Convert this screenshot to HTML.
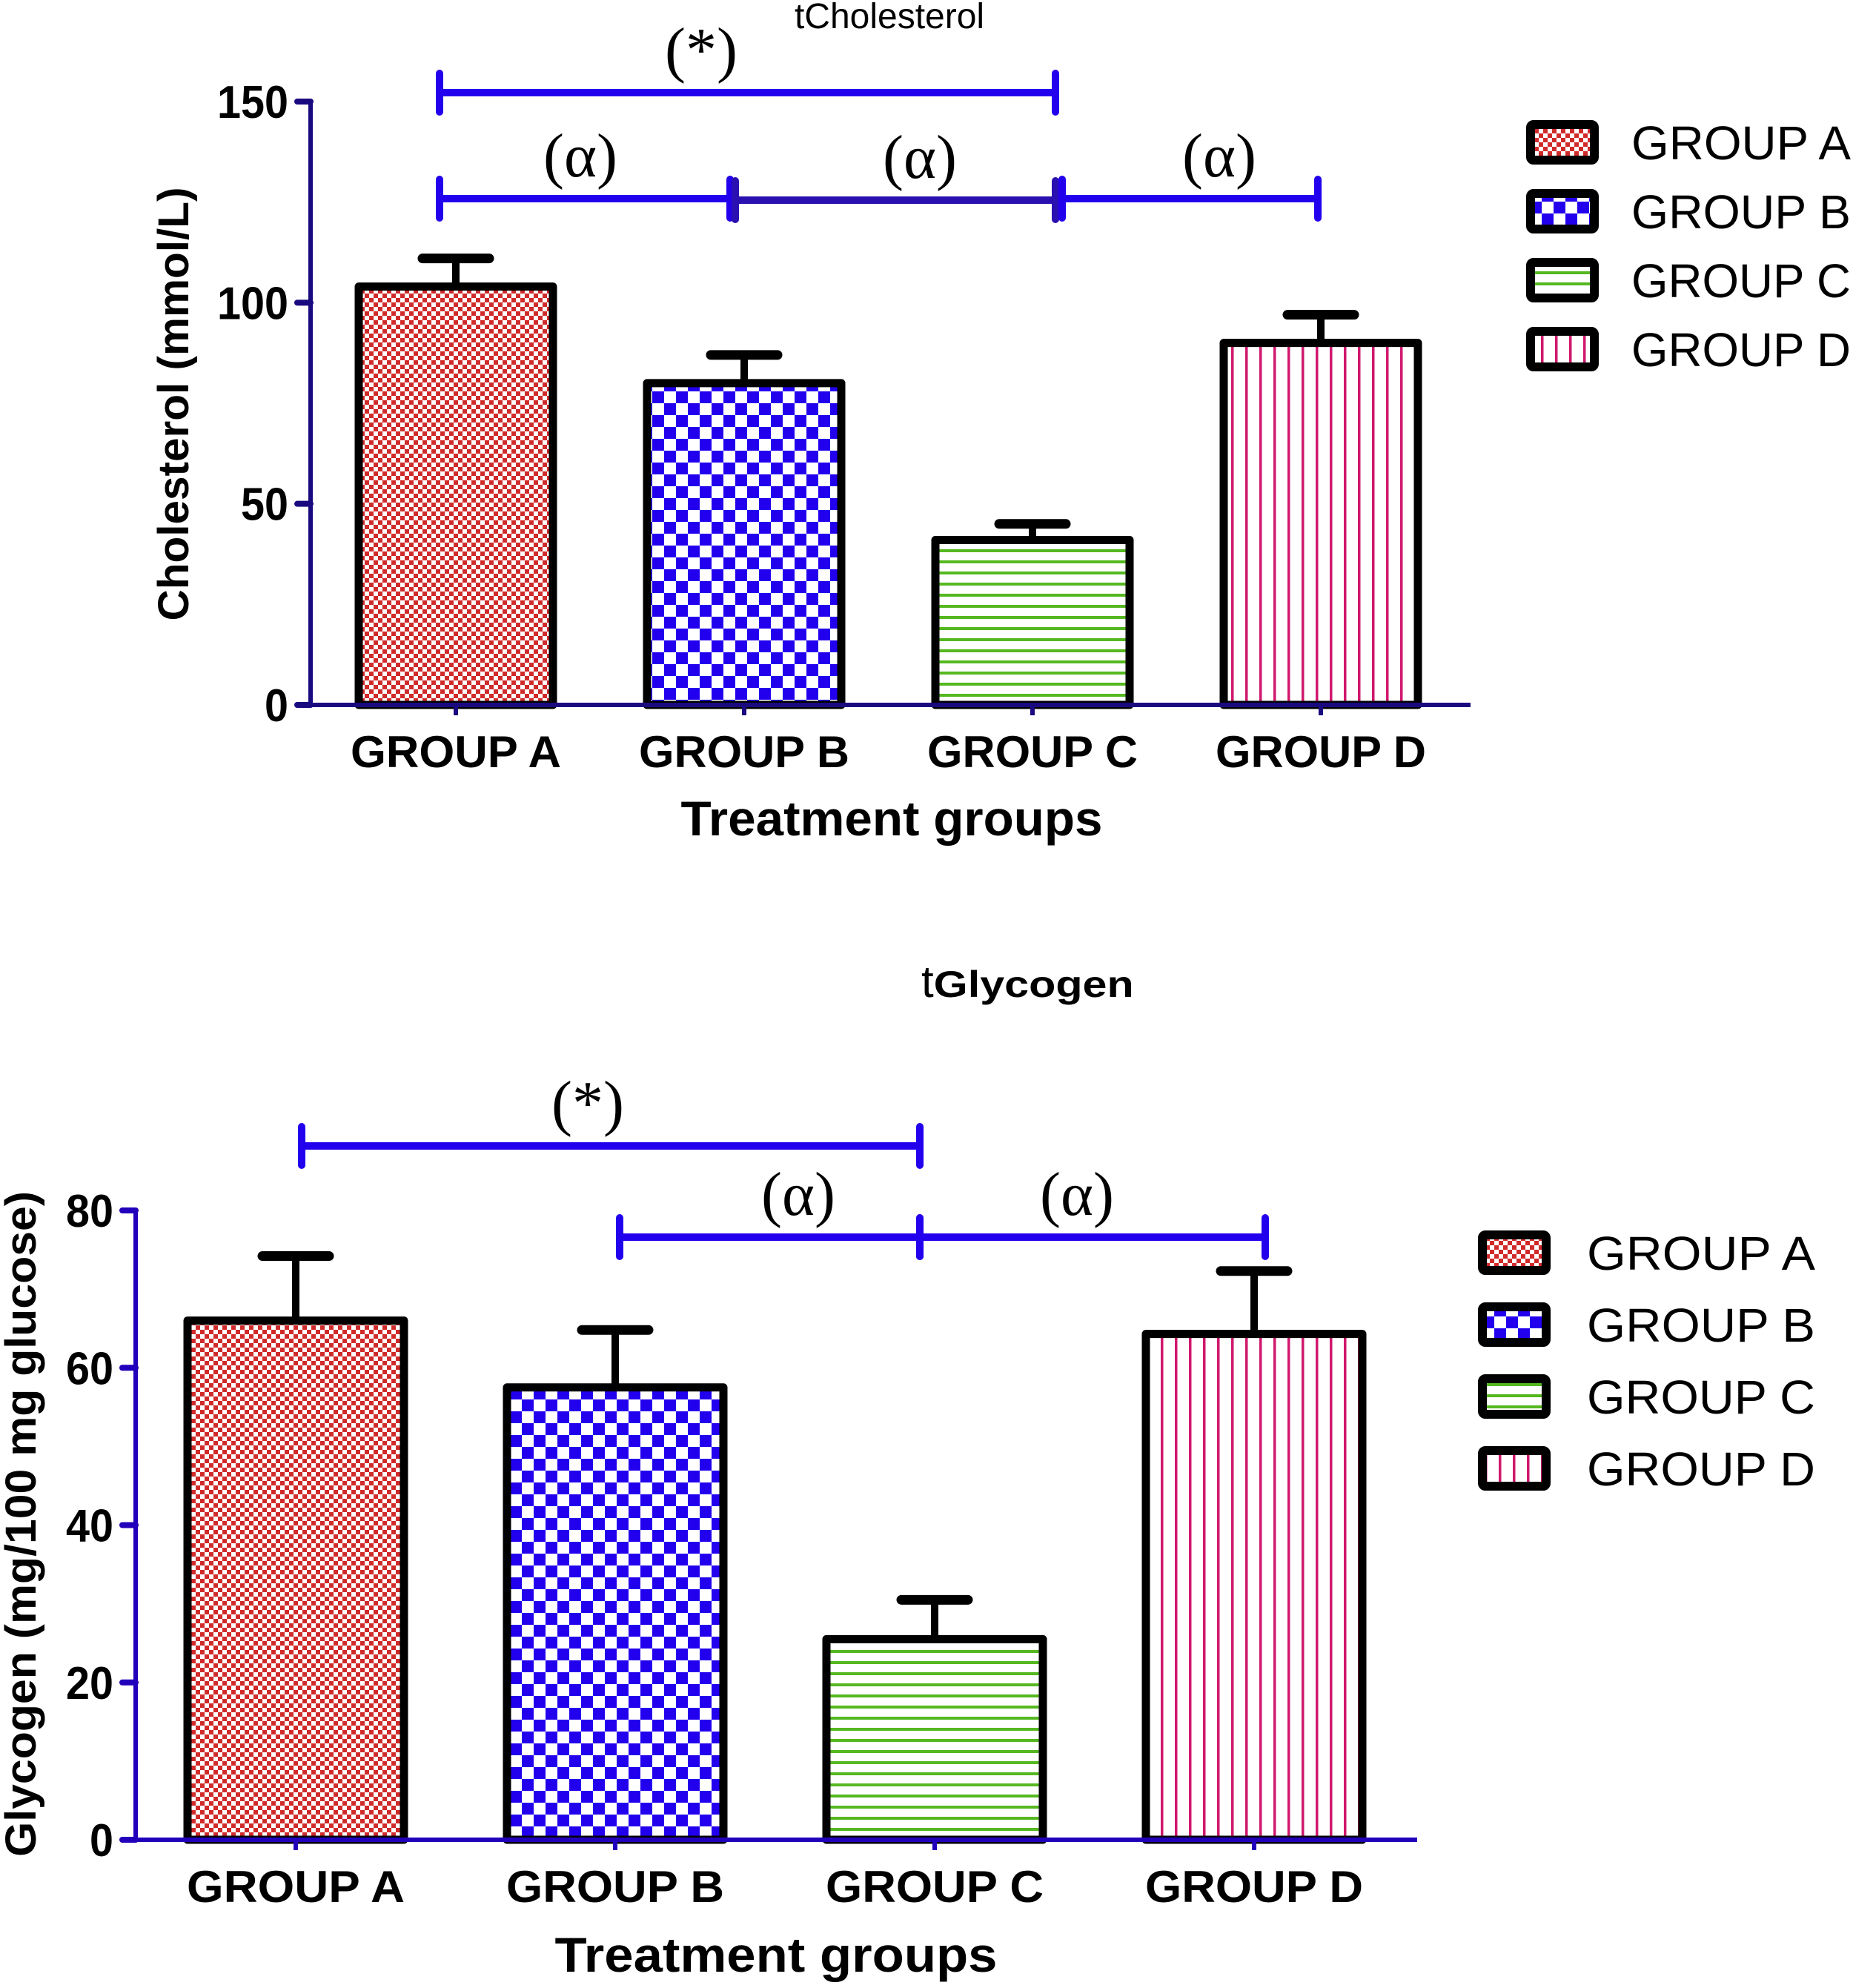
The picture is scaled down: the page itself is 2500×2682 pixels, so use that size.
<!DOCTYPE html>
<html><head><meta charset="utf-8"><style>
html,body{margin:0;padding:0;background:#fff}
svg{display:block;font-family:"Liberation Sans",sans-serif}
</style></head><body>
<svg id="chart" width="2500" height="2682" viewBox="0 0 2500 2682" xmlns="http://www.w3.org/2000/svg">
<defs>
<pattern id="pA" width="12" height="12" patternUnits="userSpaceOnUse"><rect width="12" height="12" fill="#fff"/><rect width="6" height="6" fill="#d02a2a"/><rect x="6" y="6" width="6" height="6" fill="#d02a2a"/></pattern>
<pattern id="pB" width="32" height="32" patternUnits="userSpaceOnUse"><rect width="32" height="32" fill="#fff"/><rect width="16" height="16" fill="#2200ee"/><rect x="16" y="16" width="16" height="16" fill="#2200ee"/></pattern>
<pattern id="pC" width="15" height="15" patternUnits="userSpaceOnUse"><rect width="15" height="15" fill="#fff"/><rect y="6" width="15" height="4" fill="#55b820"/></pattern>
<pattern id="pD" width="19" height="19" patternUnits="userSpaceOnUse"><rect width="19" height="19" fill="#fff"/><rect x="8" width="3.5" height="19" fill="#d0186e"/></pattern>
</defs>
<g id="g1"></g><g id="g2"></g>
</svg>
<script>
const categories = ["GROUP A","GROUP B","GROUP C","GROUP D"];
const cholValues = [104, 80, 41, 90];
const cholErrors = [7, 7, 4, 7];
const cholTicks = [0, 50, 100, 150];
const glyValues = [66, 57.5, 25.5, 64.3];
const glyErrors = [8.2, 7.3, 5, 8];
const glyTicks = [0, 20, 40, 60, 80];
const patterns = ["pA","pB","pC","pD"];
const NS = "http://www.w3.org/2000/svg";
function mk(parent, tag, attrs, text){
  const e = document.createElementNS(NS, tag);
  for (const k in attrs) e.setAttribute(k, attrs[k]);
  if (text !== undefined) e.textContent = text;
  parent.appendChild(e); return e;
}
function drawChart(g, cfg){
  const y = v => cfg.y0 - (v - 0) / cfg.ymax * (cfg.y0 - cfg.ytop);
  const bw = cfg.barW;
  const cx = i => cfg.x0 + cfg.first + i * cfg.step;
  cfg.drawTitle(g);
  categories.forEach((c, i) => {
    const v = cfg.values[i], e = cfg.errors[i];
    const top = y(v), x = cx(i);
    const eb = mk(g, "g", {});
    
    
    mk(eb, "line", {x1: x, x2: x, y1: top, y2: y(v + e), stroke: "#000", "stroke-width": 10});
    mk(eb, "line", {x1: x - 45, x2: x + 45, y1: y(v + e), y2: y(v + e), stroke: "#000", "stroke-width": 13, "stroke-linecap": "round"});
    const r = mk(g, "rect", {x: x - bw / 2, y: top, width: bw, height: cfg.y0 - top, fill: "url(#" + patterns[i] + ")", stroke: "#000", "stroke-width": 11, "stroke-linejoin": "round"});
    
    
    const l = mk(g, "text", {x: x - cfg.catW / 2, y: cfg.catY, "font-size": 60, "font-weight": "bold", textLength: cfg.catW, lengthAdjust: "spacingAndGlyphs"}, c);
    
    
    mk(g, "line", {x1: x, x2: x, y1: cfg.y0, y2: cfg.y0 + 14, stroke: cfg.axisColor, "stroke-width": 6});
  });
  const ax = mk(g, "path", {d: `M${cfg.x0},${cfg.ytop} V${cfg.y0} H${cfg.xend}`, fill: "none", stroke: cfg.axisColor, "stroke-width": 6});
  
  
  cfg.ticks.forEach(tv => {
    mk(g, "line", {x1: cfg.x0 - 18, x2: cfg.x0, y1: y(tv), y2: y(tv), stroke: cfg.axisColor, "stroke-width": 8, "stroke-linecap": "round"});
    const s = String(tv);
    const w = s.length * 32;
    const tl = mk(g, "text", {x: cfg.x0 - 30 - w, y: y(tv) + 22, "font-size": 62, "font-weight": "bold", textLength: w, lengthAdjust: "spacingAndGlyphs"}, s);
    
    
  });
  const xt = mk(g, "text", {x: cfg.xTitleX - cfg.xTitleW / 2, y: cfg.xTitleY, "font-size": 66, "font-weight": "bold", textLength: cfg.xTitleW, lengthAdjust: "spacingAndGlyphs"}, "Treatment groups");
  
  
  const yt = mk(g, "text", {x: -cfg.yTitleW / 2, y: 0, "font-size": 58, "font-weight": "bold", textLength: cfg.yTitleW, lengthAdjust: "spacingAndGlyphs", transform: `translate(${cfg.yTitleX},${cfg.yTitleY}) rotate(-90)`}, cfg.yTitle);
  
  
  cfg.brackets.forEach(b => {
    const bg = mk(g, "g", {});
    
    
    const col = b[5] || "#2200ee";
    mk(bg, "line", {x1: b[0], x2: b[1], y1: b[2], y2: b[2], stroke: col, "stroke-width": 10});
    mk(bg, "line", {x1: b[0], x2: b[0], y1: b[2] - 26, y2: b[2] + 26, stroke: col, "stroke-width": 10, "stroke-linecap": "round"});
    mk(bg, "line", {x1: b[1], x2: b[1], y1: b[2] - 26, y2: b[2] + 26, stroke: col, "stroke-width": 10, "stroke-linecap": "round"});
    mk(bg, "text", {x: b[4], y: b[2] - 30, "font-size": 84, "font-family": "Liberation Serif, serif", "text-anchor": "middle"}, b[3]);
  });
  categories.forEach((c, i) => {
    const lg = mk(g, "g", {});
    
    
    const yy = cfg.legY + i * cfg.legStep;
    mk(lg, "rect", {x: cfg.legX, y: yy - 24, width: 86, height: 48, rx: 4, fill: "url(#" + patterns[i] + ")", stroke: "#000", "stroke-width": 12});
    mk(lg, "text", {x: cfg.legTextX, y: yy + 23, "font-size": 64, textLength: cfg.legTextW, lengthAdjust: "spacingAndGlyphs"}, c);
  });
}
drawChart(document.getElementById("g1"), {
  drawTitle: g => {
    const t = mk(g, "text", {x: 1200, y: 38, "font-size": 48, "text-anchor": "middle"}, "tCholesterol");
    
    
  },
  values: cholValues, errors: cholErrors, ticks: cholTicks, ymax: 150,
  x0: 419, y0: 951, ytop: 137, xend: 1984, first: 196, step: 389, barW: 262,
  axisColor: "#1a0a80", catY: 1035, catW: 284, xTitleX: 1203, xTitleY: 1127, xTitleW: 569,
  yTitle: "Cholesterol (mmol/L)", yTitleX: 254, yTitleY: 545, yTitleW: 585,
  brackets: [[593, 1424, 125, "(*)", 946], [593, 985, 268, "(α)", 783], [992, 1424, 270, "(α)", 1241, "#2a10b0"], [1433, 1778, 268, "(α)", 1645]],
  legX: 2065, legY: 192, legStep: 93, legTextX: 2201, legTextW: 296
});
drawChart(document.getElementById("g2"), {
  drawTitle: g => {
    const t = mk(g, "text", {x: 1243, y: 1345, "font-size": 60}, "t");
    
    
    mk(t, "tspan", {"font-size": 50, "font-weight": "bold", textLength: 270, lengthAdjust: "spacingAndGlyphs"}, "Glycogen");
  },
  values: glyValues, errors: glyErrors, ticks: glyTicks, ymax: 80,
  x0: 183, y0: 2482, ytop: 1633, xend: 1912, first: 216, step: 431, barW: 292,
  axisColor: "#2200bb", catY: 2566, catW: 294, xTitleX: 1047, xTitleY: 2660, xTitleW: 597,
  yTitle: "Glycogen (mg/100 mg glucose)", yTitleX: 48, yTitleY: 2056, yTitleW: 898,
  brackets: [[407, 1241, 1546, "(*)", 793], [836, 1241, 1669, "(α)", 1077], [1241, 1707, 1669, "(α)", 1453]],
  legX: 2000, legY: 1690, legStep: 97, legTextX: 2141, legTextW: 308
});
</script>
</body></html>
